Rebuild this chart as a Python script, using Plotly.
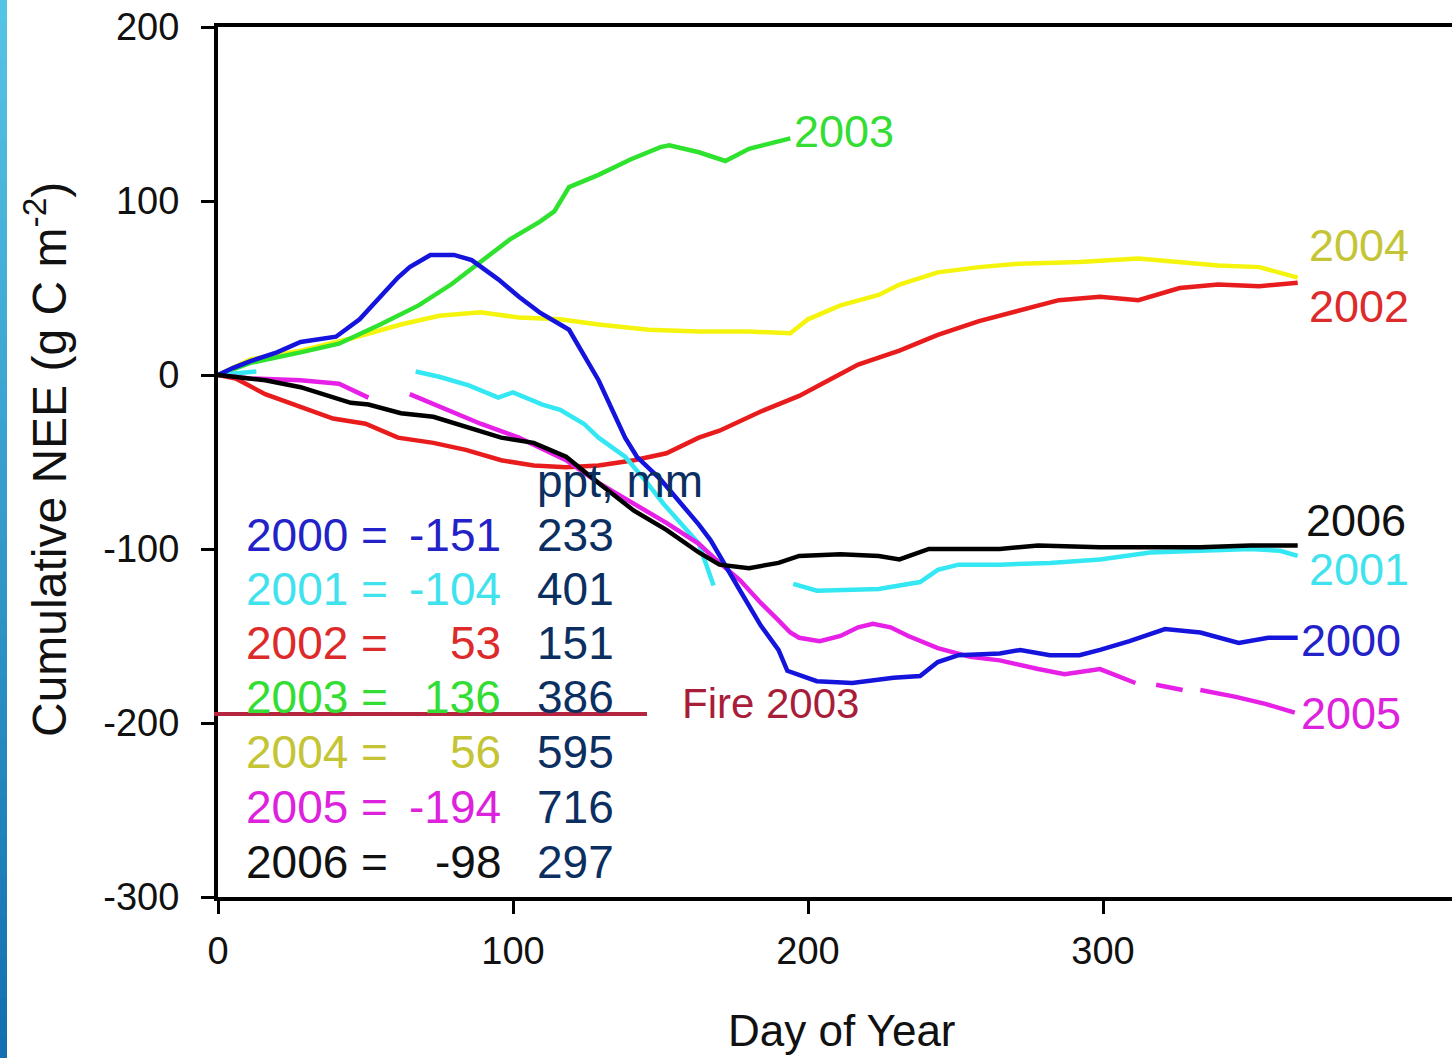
import plotly.graph_objects as go

# ---- Cumulative NEE by day of year (g C m-2), one series per year ----
years = [2000, 2001, 2002, 2003, 2004, 2005, 2006]

day_2000 = [0, 5, 11, 20, 28, 40, 48, 55, 61, 65, 72, 80, 86, 95, 102, 109, 119, 129, 138, 142,
            150, 157, 163, 167, 170, 177, 184, 190, 193, 203, 215, 229, 238, 244, 251, 265, 272,
            282, 292, 299, 309, 321, 333, 346, 356, 366]
nee_2000 = [0, 4, 8, 13, 19, 22, 32, 45, 56, 62, 69, 69, 66, 55, 45, 36, 26, -3, -36, -47,
            -60, -74, -86, -95, -104, -124, -144, -158, -170, -176, -177, -174, -173, -165, -161,
            -160, -158, -161, -161, -158, -153, -146, -148, -154, -151, -151]

# None entries mark missing data (gaps in the record)
day_2001 = [0, 7, 13, None, 67, 75, 85, 95, 100, 110, 116, 124, 129, 138, 145, 151, 163, 168,
            None, 195, 203, 224, 238, 244, 251, 265, 282, 299, 316, 333, 350, 360, 366]
nee_2001 = [0, 1, 2, None, 2, -1, -6, -13, -10, -17, -20, -28, -36, -47, -61, -74, -97, -121,
            None, -120, -124, -123, -119, -112, -109, -109, -108, -106, -102, -101, -100, -101, -104]

day_2002 = [0, 6, 16, 28, 39, 50, 61, 73, 84, 96, 107, 118, 129, 141, 152, 163, 170, 184, 197,
            207, 217, 231, 244, 258, 272, 285, 299, 312, 326, 339, 353, 366]
nee_2002 = [0, -2, -11, -18, -25, -28, -36, -39, -43, -49, -52, -53, -52, -49, -45, -36, -32, -21,
            -12, -3, 6, 14, 23, 31, 37, 43, 45, 43, 50, 52, 51, 53]

day_2003 = [0, 11, 28, 41, 55, 68, 79, 89, 99, 109, 114, 119, 129, 140, 150, 153, 163, 172, 180, 194]
nee_2003 = [0, 7, 13, 18, 29, 40, 52, 65, 78, 88, 94, 108, 115, 124, 131, 132, 128, 123, 130, 136]

day_2004 = [0, 11, 28, 45, 62, 75, 89, 102, 116, 129, 146, 163, 180, 194, 200, 211, 224, 231, 244,
            258, 272, 292, 312, 326, 339, 353, 366]
nee_2004 = [0, 9, 14, 21, 29, 34, 36, 33, 32, 29, 26, 25, 25, 24, 32, 40, 46, 52, 59, 62, 64, 65,
            67, 65, 63, 62, 56]

day_2005 = [0, 11, 28, 41, 51, None, 65, 78, 89, 102, 118, 129, 141, 152, 163, 170, 177, 184, 190,
            194, 197, 204, 211, 217, 222, 228, 234, 244, 255, 265, 278, 287, 299, 311, None, 318,
            327, None, 333, 345, 355, 365]
nee_2005 = [0, -2, -3, -5, -13, None, -11, -20, -28, -36, -49, -62, -74, -85, -97, -108, -118, -131,
            -141, -148, -151, -153, -150, -145, -143, -145, -150, -157, -162, -164, -169, -172, -169,
            -177, None, -178, -181, None, -181, -185, -189, -194]

day_2006 = [0, 6, 16, 28, 39, 45, 51, 62, 73, 84, 96, 107, 118, 129, 141, 152, 163, 170, 180, 190,
            197, 211, 224, 231, 241, 251, 265, 278, 299, 316, 333, 350, 366]
nee_2006 = [0, -1, -3, -7, -13, -16, -17, -22, -24, -30, -36, -39, -47, -62, -78, -89, -102, -109,
            -111, -108, -104, -103, -104, -106, -100, -100, -100, -98, -99, -99, -99, -98, -98]

annual_nee = [-151, -104, 53, 136, 56, -194, -98]
precip_mm = [233, 401, 151, 386, 595, 716, 297]

x_ticks = [0, 100, 200, 300]
y_ticks = [-300, -200, -100, 0, 100, 200]

series_days = [day_2000, day_2001, day_2002, day_2003, day_2004, day_2005, day_2006]
series_nee = [nee_2000, nee_2001, nee_2002, nee_2003, nee_2004, nee_2005, nee_2006]

line_colors = ["#1414dc", "#33e8f2", "#e81c1c", "#2ee22e", "#f4f40c", "#e620e6", "#000000"]
label_colors = ["#2222c8", "#40e2ee", "#dd2a2a", "#33dd33", "#c4c434", "#dd22dd", "#111111"]

W, H = 1452, 1058
ML, MR, MT, MB = 218, 0, 27, 161
PW, PH = W - ML - MR, H - MT - MB


def px_x(px):
    return (px - ML) / PW


def px_y(py):
    return (H - MB - py) / PH


FONT = "Liberation Sans, Arial, sans-serif"

fig = go.Figure()

draw_order = [4, 2, 3, 1, 5, 0, 6]
for i in draw_order:
    fig.add_trace(go.Scatter(
        x=series_days[i], y=series_nee[i], mode="lines",
        line=dict(color=line_colors[i], width=4.5),
        connectgaps=False, showlegend=False, name=str(years[i]),
    ))

annotations = []

# year labels at the end of each curve
end_labels = [  # (year index, left px, centre px)
    (3, 793, 131), (4, 1308, 246), (2, 1308, 306), (6, 1305, 520),
    (1, 1308, 569), (0, 1300, 640), (5, 1300, 713),
]
for i, lx, ly in end_labels:
    annotations.append(dict(
        x=px_x(lx), y=px_y(ly), xref="paper", yref="paper", xanchor="left", yanchor="middle",
        text=str(years[i]), showarrow=False, borderpad=0,
        font=dict(family=FONT, size=45, color=label_colors[i]),
    ))

# annual totals and precipitation table
row_y = [535, 589, 643, 697, 752, 807, 862]
for i, yr in enumerate(years):
    annotations.append(dict(
        x=px_x(244), y=px_y(row_y[i]), xref="paper", yref="paper", xanchor="left",
        yanchor="middle", text=f"{yr} =", showarrow=False,
        font=dict(family=FONT, size=46, color=label_colors[i]),
    ))
    annotations.append(dict(
        x=px_x(503), y=px_y(row_y[i]), xref="paper", yref="paper", xanchor="right",
        yanchor="middle", text=f"{annual_nee[i]}", showarrow=False,
        font=dict(family=FONT, size=46, color=label_colors[i]),
    ))
    annotations.append(dict(
        x=px_x(535), y=px_y(row_y[i]), xref="paper", yref="paper", xanchor="left",
        yanchor="middle", text=f"{precip_mm[i]}", showarrow=False,
        font=dict(family=FONT, size=46, color="#0c2f62"),
    ))

annotations.append(dict(
    x=px_x(535), y=px_y(481), xref="paper", yref="paper", xanchor="left", yanchor="middle",
    text="ppt, mm", showarrow=False, font=dict(family=FONT, size=46, color="#0c2f62"),
))
annotations.append(dict(
    x=px_x(680), y=px_y(703), xref="paper", yref="paper", xanchor="left", yanchor="middle",
    text="Fire 2003", showarrow=False, font=dict(family=FONT, size=42, color="#a81e3a"),
))

# axis titles
annotations.append(dict(
    x=px_x(46), y=px_y(460), xref="paper", yref="paper", xanchor="center", yanchor="middle",
    text="Cumulative NEE (g C m<sup>-2</sup>)", textangle=-90, showarrow=False,
    font=dict(family=FONT, size=48, color="#111111"),
))
annotations.append(dict(
    x=px_x(842), y=px_y(1030), xref="paper", yref="paper", xanchor="center", yanchor="middle",
    text="Day of Year", showarrow=False, font=dict(family=FONT, size=44, color="#111111"),
))

shapes = []
# fire marker line
shapes.append(dict(
    type="line", xref="paper", yref="paper", x0=px_x(214), x1=px_x(647),
    y0=px_y(714), y1=px_y(714), line=dict(color="#b5253f", width=4), layer="above",
))

# slide accent strip along the left edge (vertical gradient)
n_strip = 53
top_rgb, bot_rgb = (84, 196, 228), (20, 112, 176)
for k in range(n_strip):
    t = k / (n_strip - 1)
    c = tuple(round(a + (b - a) * t) for a, b in zip(top_rgb, bot_rgb))
    y_top = k * H / n_strip
    y_bot = (k + 1) * H / n_strip + 1
    shapes.append(dict(
        type="rect", xref="paper", yref="paper", x0=px_x(0), x1=px_x(7),
        y0=px_y(y_bot), y1=px_y(y_top), line=dict(width=0),
        fillcolor=f"rgb{c}", layer="below",
    ))

fig.update_layout(
    width=W, height=H,
    margin=dict(l=ML, r=MR, t=MT, b=MB, pad=0),
    paper_bgcolor="white", plot_bgcolor="white",
    annotations=annotations, shapes=shapes,
    showlegend=False,
    font=dict(family=FONT, color="#111111"),
)

fig.update_xaxes(
    range=[0, PW / 2.95], tickvals=x_ticks, ticktext=[str(v) for v in x_ticks],
    showgrid=False, zeroline=False,
    showline=True, linecolor="black", linewidth=4, mirror=True,
    ticks="outside", ticklen=13, tickwidth=3, tickcolor="black",
    tickfont=dict(family=FONT, size=38, color="#111111"), ticklabelstandoff=4,
)
fig.update_yaxes(
    range=[-300, 200], tickvals=y_ticks, ticktext=[str(v) for v in y_ticks],
    showgrid=False, zeroline=False,
    showline=True, linecolor="black", linewidth=4, mirror=False,
    ticks="outside", ticklen=13, tickwidth=3, tickcolor="black",
    tickfont=dict(family=FONT, size=38, color="#111111"), ticklabelstandoff=14,
)

fig.write_html("out.html")
